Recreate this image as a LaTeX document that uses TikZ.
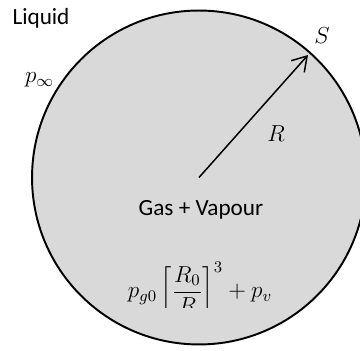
\documentclass[tikz,border=0pt]{standalone}
\usepackage{fix-cm}
\usepackage{amsmath}
\usepackage[no-math]{fontspec}
\setmainfont{Carlito}
\usetikzlibrary{arrows.meta}
\tikzset{
  labeltext/.style={font=\fontsize{13.2}{15}\selectfont, inner sep=0pt},
}
\begin{document}
\begin{tikzpicture}[x=0.02cm, y=-0.02cm]
  \def\Rb{3.34cm}
  \clip (0,0) rectangle (360,351);
  \coordinate (centre) at (199,177.5);
  \coordinate (tip) at (308,55);
  % bubble
  \draw [line width=1.1pt, fill=gray!30] (centre) circle [radius=\Rb];
  \draw [line width=0.85pt, -{Straight Barb[length=8pt, width=10pt]}]
    (centre) -- (tip);
  \node [labeltext] (liquid) at (41,18) {Liquid};
  \node [labeltext] (pinf) at (39.5,80) {$p_\infty$};
  \node [labeltext] (slabel) at (322,36) {$S$};
  \node [labeltext] (rlabel) at (276,134) {$R$};
  \node [labeltext] (gas) at (201,210) {Gas + Vapour};
  \begin{scope}
    \clip (100,240) rectangle (300,308);
    \node [labeltext, anchor=base] (press) at (200,298)
      {$p_{g0}\left[\dfrac{R_0}{R}\right]^3+p_v$};
  \end{scope}
\end{tikzpicture}
\end{document}
